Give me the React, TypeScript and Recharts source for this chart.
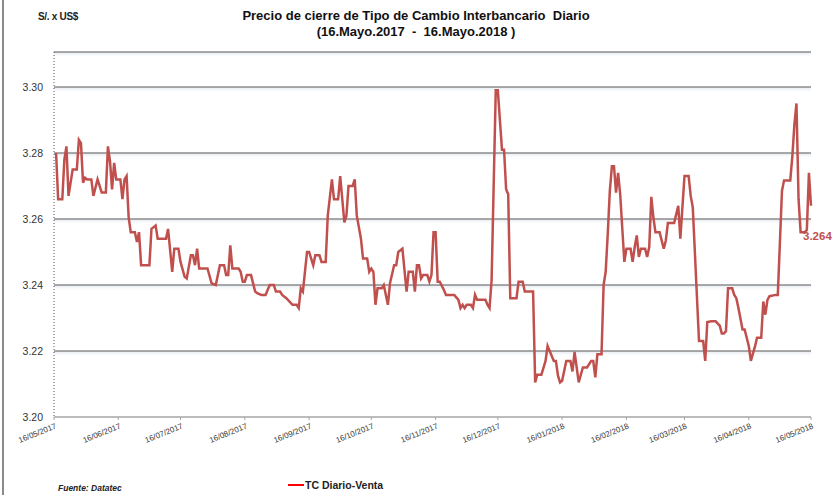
import { LineChart, Line, XAxis, YAxis, CartesianGrid, LabelList } from 'recharts';

// days counted from 16/05/2017
const dayOffsets = [
  1, 2, 4, 5, 6, 7, 9, 11, 12, 13, 14, 15, 16, 18, 19, 21, 22, 23, 25, 26, 27, 28, 29, 30, 32, 33, 34, 35, 36, 37,
  39, 40, 41, 42, 46, 47, 49, 50, 54, 55, 57, 58, 60, 61, 63, 64, 66, 67, 68, 69, 70, 74, 76, 78, 80, 82, 83, 84, 85, 86,
  89, 90, 91, 92, 93, 95, 97, 98, 100, 102, 104, 106, 107, 109, 110, 112, 115, 117, 118, 119, 120, 122, 123, 125, 126, 128, 129, 131, 132, 134,
  135, 137, 138, 140, 141, 142, 144, 145, 146, 148, 149, 151, 152, 153, 154, 155, 156, 158, 159, 161, 162, 164, 165, 166, 168, 170, 171, 173, 174, 175,
  176, 177, 178, 180, 181, 182, 183, 184, 185, 186, 188, 189, 193, 195, 196, 197, 198, 199, 201, 202, 203, 204, 208, 209, 210, 211, 213, 214, 216, 217,
  218, 219, 220, 223, 224, 226, 227, 231, 232, 233, 235, 237, 238, 240, 241, 242, 243, 244, 245, 247, 249, 250, 251, 253, 255, 257, 259, 260, 261, 262,
  264, 265, 266, 267, 268, 269, 270, 271, 272, 273, 275, 276, 278, 279, 280, 281, 282, 283, 285, 286, 287, 288, 289, 290, 292, 294, 295, 296, 299, 301,
  302, 304, 306, 307, 308, 311, 313, 314, 315, 317, 319, 321, 322, 323, 324, 325, 327, 328, 329, 330, 332, 333, 335, 336, 338, 339, 341, 342, 343, 344,
  345, 348, 349, 351, 352, 355, 356, 357, 358, 359, 360, 362, 363, 364, 365,
];

const tcVenta = [
  3.280, 3.266, 3.266, 3.278, 3.282, 3.267, 3.275, 3.275, 3.284, 3.283, 3.271, 3.2725, 3.272, 3.272, 3.267, 3.272, 3.270, 3.268, 3.268, 3.282, 3.2775, 3.269, 3.277, 3.272, 3.272, 3.266, 3.272, 3.273, 3.2605, 3.256,
  3.256, 3.253, 3.256, 3.246, 3.246, 3.257, 3.258, 3.254, 3.254, 3.257, 3.244, 3.251, 3.251, 3.247, 3.2425, 3.242, 3.249, 3.249, 3.246, 3.251, 3.245, 3.245, 3.2405, 3.240, 3.246, 3.246, 3.243, 3.243, 3.252, 3.245,
  3.245, 3.244, 3.241, 3.241, 3.243, 3.243, 3.238, 3.2375, 3.237, 3.237, 3.240, 3.240, 3.238, 3.238, 3.237, 3.236, 3.234, 3.234, 3.233, 3.239, 3.238, 3.250, 3.250, 3.246, 3.249, 3.249, 3.247, 3.247, 3.261, 3.272,
  3.266, 3.266, 3.273, 3.259, 3.261, 3.270, 3.270, 3.272, 3.261, 3.254, 3.248, 3.248, 3.244, 3.245, 3.244, 3.234, 3.239, 3.239, 3.240, 3.234, 3.2405, 3.246, 3.246, 3.250, 3.251, 3.238, 3.244, 3.244, 3.238, 3.246,
  3.246, 3.242, 3.243, 3.243, 3.241, 3.243, 3.256, 3.256, 3.241, 3.241, 3.2385, 3.237, 3.237, 3.2355, 3.233, 3.234, 3.233, 3.234, 3.234, 3.233, 3.237, 3.2355, 3.2355, 3.234, 3.233, 3.2415, 3.299, 3.299, 3.281, 3.281,
  3.269, 3.2675, 3.236, 3.236, 3.241, 3.241, 3.238, 3.238, 3.2105, 3.2128, 3.2128, 3.217, 3.2215, 3.2185, 3.217, 3.217, 3.2125, 3.2105, 3.211, 3.217, 3.217, 3.2138, 3.2197, 3.2105, 3.215, 3.215, 3.217, 3.217, 3.212, 3.219,
  3.219, 3.240, 3.244, 3.2555, 3.2685, 3.276, 3.276, 3.268, 3.274, 3.2675, 3.247, 3.251, 3.251, 3.247, 3.2515, 3.255, 3.2485, 3.251, 3.251, 3.2485, 3.2515, 3.2667, 3.2605, 3.256, 3.256, 3.251, 3.2535, 3.2588, 3.2588, 3.264,
  3.254, 3.273, 3.273, 3.267, 3.2635, 3.223, 3.223, 3.217, 3.2288, 3.229, 3.229, 3.2277, 3.2253, 3.2253, 3.226, 3.239, 3.239, 3.237, 3.236, 3.233, 3.2265, 3.2265, 3.2215, 3.217, 3.2214, 3.224, 3.224, 3.235, 3.231, 3.2355,
  3.2366, 3.237, 3.237, 3.2685, 3.2717, 3.2717, 3.279, 3.2887, 3.295, 3.266, 3.256, 3.256, 3.2567, 3.274, 3.264,
];

const tickDays = [0, 31, 61, 92, 123, 153, 184, 214, 245, 276, 304, 335, 365];
const tickLabels = [
  '16/05/2017', '16/06/2017', '16/07/2017', '16/08/2017', '16/09/2017', '16/10/2017', '16/11/2017',
  '16/12/2017', '16/01/2018', '16/02/2018', '16/03/2018', '16/04/2018', '16/05/2018',
];
const yTicks = [3.2, 3.22, 3.24, 3.26, 3.28, 3.3];

const data = dayOffsets.map((d, i) => ({ day: d, v: tcVenta[i] }));

const font = "'Liberation Sans', Arial, sans-serif";
const lineColor = '#c0504d';

const DateTick = (props: any) => {
  const { x, y, payload } = props;
  const idx = tickDays.indexOf(payload.value);
  return (
    <text
      x={x + 3}
      y={y + 6}
      transform={`rotate(-22 ${x + 3} ${y + 6})`}
      textAnchor="end"
      fontSize={8}
      fontFamily={font}
      fill="#333"
    >
      {tickLabels[idx]}
    </text>
  );
};

const GridLine = (p: any) => {
  if (p.y1 > 410) return <g key={p.key} />;
  return (
    <g key={p.key}>
      <rect x={p.x1} y={p.y1} width={p.x2 - p.x1} height={6} fill="url(#gridGlow)" />
      <line x1={p.x1} y1={p.y1} x2={p.x2} y2={p.y2} stroke="#8c8c8c" strokeWidth={1.3} />
    </g>
  );
};

const LastLabel = (props: any) => {
  const { x, y, value, index } = props;
  if (index !== data.length - 1) return null;
  return (
    <text x={x - 8} y={y + 34} fontSize={11.5} fontWeight="bold" fontFamily={font} fill={lineColor}>
      {value.toFixed(3)}
    </text>
  );
};

export default function App() {
  return (
    <div style={{ position: 'absolute', left: 0, top: 0, width: 835, height: 495, background: '#fff', fontFamily: font, overflow: 'hidden' }}>
      <div style={{ position: 'absolute', left: 2, top: 0, width: 2, height: 495, background: '#8a8a8a' }} />
      <div style={{ position: 'absolute', left: 38, top: 11, fontSize: 10, fontWeight: 'bold', color: '#222', letterSpacing: -0.3 }}>S/. x US$</div>
      <div style={{ position: 'absolute', left: 0, width: 832, top: 8, textAlign: 'center', fontSize: 13, fontWeight: 'bold', color: '#111', lineHeight: '16px' }}>
        Precio de cierre de Tipo de Cambio Interbancario&nbsp; Diario
        <br />
        (16.Mayo.2017&nbsp; -&nbsp; 16.Mayo.2018 )
      </div>
      <LineChart width={835} height={495} data={data} margin={{ top: 52, right: 24, bottom: 48, left: 4 }}>
        <defs>
          <linearGradient id="gridGlow" x1="0" y1="0" x2="0" y2="1">
            <stop offset="0%" stopColor="#dfe5ee" />
            <stop offset="100%" stopColor="#ffffff" stopOpacity={0} />
          </linearGradient>
        </defs>
        <CartesianGrid vertical={false} horizontal={GridLine} />
        <XAxis
          type="number"
          dataKey="day"
          domain={[0, 365]}
          ticks={tickDays}
          interval={0}
          height={30}
          tick={<DateTick />}
          axisLine={{ stroke: '#a6a6a6', strokeWidth: 1.5 }}
          tickLine={{ stroke: '#a6a6a6' }}
          tickSize={3}
        />
        <YAxis
          type="number"
          domain={[3.2, 3.3106]}
          ticks={yTicks}
          width={50}
          tickFormatter={(v: number) => v.toFixed(2)}
          tick={{ fontSize: 10.5, fill: '#333', fontFamily: font }}
          tickLine={false}
          tickSize={0}
          tickMargin={11}
          axisLine={{ stroke: '#555', strokeDasharray: '1 2' }}
          allowDataOverflow
        />
        <Line
          type="linear"
          dataKey="v"
          stroke={lineColor}
          strokeWidth={2.5}
          dot={false}
          isAnimationActive={false}
        >
          <LabelList dataKey="v" content={<LastLabel />} />
        </Line>
      </LineChart>
      <div style={{ position: 'absolute', left: 58, top: 483, fontSize: 8.5, fontWeight: 'bold', fontStyle: 'italic', color: '#222' }}>
        Fuente: Datatec
      </div>
      <div style={{ position: 'absolute', left: 288, top: 479, display: 'flex', alignItems: 'center' }}>
        <div style={{ width: 16, height: 2, background: '#ff0000' }} />
        <span style={{ fontSize: 10.5, fontWeight: 'bold', color: '#222', marginLeft: 1 }}>TC Diario-Venta</span>
      </div>
    </div>
  );
}
